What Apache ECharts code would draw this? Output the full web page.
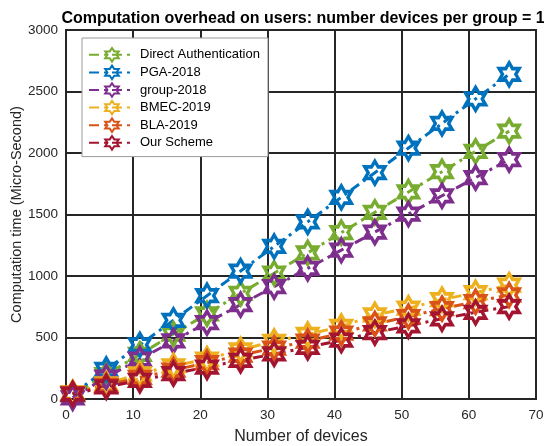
<!DOCTYPE html>
<html>
<head>
<meta charset="utf-8">
<script src="https://cdn.jsdelivr.net/npm/echarts@6/dist/echarts.min.js"></script>
<style>html,body{margin:0;padding:0;background:#fff}#c{width:544px;height:446px}</style>
</head>
<body>
<div id="c"></div>
<script>
var devices = [1, 6, 11, 16, 21, 26, 31, 36, 41, 46, 51, 56, 61, 66];
var directAuth = [33, 198, 363, 528, 693, 858, 1023, 1188, 1353, 1518, 1683, 1848, 2013, 2178];
var pga2018 = [40, 240, 440, 640, 840, 1040, 1240, 1440, 1640, 1840, 2040, 2240, 2440, 2640];
var group2018 = [10, 177, 324, 472, 620, 767, 914, 1062, 1210, 1357, 1504, 1652, 1800, 1947];
var bmec2019 = [50, 122, 205, 270, 325, 400, 468, 525, 590, 684, 738, 808, 864, 926];
var bla2019 = [45, 110, 175, 235, 295, 357, 414, 470, 536, 610, 670, 735, 791, 846];
var ourScheme = [40, 98, 152, 206, 260, 314, 366, 420, 478, 540, 595, 652, 705, 751];
var seriesNames = ['Direct Authentication', 'PGA-2018', 'group-2018', 'BMEC-2019', 'BLA-2019', 'Our Scheme'];
var seriesColors = ['#77AC30', '#0072BD', '#7E2F8E', '#EDB120', '#D95319', '#A2142F'];
var xTicks = [0, 10, 20, 30, 40, 50, 60, 70];
var yTicks = [0, 500, 1000, 1500, 2000, 2500, 3000];

var star = 'path://M8.66 0L11.55 5L17.32 5L14.43 10L17.32 15L11.55 15L8.66 20L5.77 15L0 15L2.89 10L0 5L5.77 5Z';
var allData = [directAuth, pga2018, group2018, bmec2019, bla2019, ourScheme];
var series = allData.map(function (vals, i) {
  return {
    name: seriesNames[i],
    type: 'line',
    data: devices.map(function (d, j) { return [d, vals[j]]; }),
    symbol: star,
    symbolSize: [20, 23],
    showAllSymbol: true,
    lineStyle: { color: seriesColors[i], width: 3, type: [10, 5, 3, 5] },
    itemStyle: { color: 'rgba(255,255,255,0)', borderColor: seriesColors[i], borderWidth: 3.5 },
    emphasis: { disabled: true },
    animation: false
  };
});

var font = 'Liberation Sans, Arial, Helvetica, sans-serif';
var chart = echarts.init(document.getElementById('c'), null, { renderer: 'canvas' });
chart.setOption({
  animation: false,
  title: {
    text: 'Computation overhead on users: number devices per group = 1',
    left: 298, top: 6, textAlign: 'center',
    textStyle: { fontFamily: font, fontWeight: 'bold', fontSize: 16, color: '#000' }
  },
  grid: { left: 66, right: 8, top: 30, bottom: 47, show: true, borderColor: '#262626', borderWidth: 2, backgroundColor: '#fff', outerBoundsMode: 'none', containLabel: false },
  legend: {
    orient: 'vertical', left: 82, top: 38,
    backgroundColor: '#fff', borderColor: '#9a9a9a', borderWidth: 1,
    padding: [9, 8, 6, 6], itemGap: 2, itemWidth: 46, itemHeight: 17,
    textStyle: { fontFamily: font, fontSize: 13, color: '#000' },
    data: seriesNames
  },
  xAxis: {
    type: 'value', min: xTicks[0], max: xTicks[xTicks.length - 1], interval: 10,
    name: 'Number of devices', nameLocation: 'middle', nameGap: 30,
    nameTextStyle: { fontFamily: font, fontSize: 16, color: '#262626' },
    axisLine: { show: true, lineStyle: { color: '#262626', width: 2 } },
    axisTick: { show: false },
    axisLabel: { fontFamily: font, fontSize: 13.5, color: '#262626', margin: 9 },
    splitLine: { show: true, lineStyle: { color: '#262626', width: 2 } }
  },
  yAxis: {
    type: 'value', min: yTicks[0], max: yTicks[yTicks.length - 1], interval: 500,
    name: 'Computation time (Micro-Second)', nameLocation: 'middle', nameGap: 42,
    nameMoveOverlap: false,
    nameTextStyle: { fontFamily: font, fontSize: 14.5, color: '#262626' },
    axisLine: { show: true, lineStyle: { color: '#262626', width: 2 } },
    axisTick: { show: false },
    axisLabel: { fontFamily: font, fontSize: 13.5, color: '#262626', margin: 8, formatter: function (v) { return String(v); } },
    splitLine: { show: true, lineStyle: { color: '#262626', width: 2 } }
  },
  series: series
});
</script>
</body>
</html>
